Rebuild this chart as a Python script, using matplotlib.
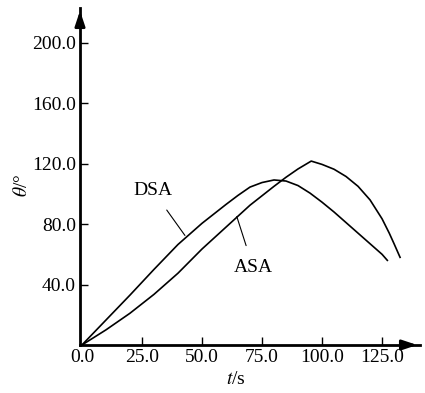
import matplotlib
matplotlib.use("Agg")
import matplotlib.pyplot as plt

# data
dsa_t = [0, 10, 20, 30, 40, 50, 60, 65, 70, 75, 80, 85, 90, 95, 100, 105, 110, 115, 120, 125, 127.2]
dsa_theta = [0, 16.5, 33, 50, 66.5, 80.5, 93, 99, 104.5, 107.5, 109.2, 108.5, 105.5, 100.5, 94.5, 88, 81, 74, 67, 60, 56]
asa_t = [0, 10, 20, 30, 40, 50, 60, 70, 80, 85, 90, 95.5, 100, 105, 110, 115, 120, 125, 128, 130, 132.5]
asa_theta = [0, 10, 21, 33.5, 47.5, 63.5, 78, 92.5, 105, 111, 116.5, 121.7, 119.5, 116.3, 111.5, 105, 96, 83.5, 74, 67, 58]
xticks = [0, 25, 50, 75, 100, 125]
xtick_labels = ["0.0", "25.0", "50.0", "75.0", "100.0", "125.0"]
yticks = [40, 80, 120, 160, 200]
ytick_labels = ["40.0", "80.0", "120.0", "160.0", "200.0"]

plt.rcParams['font.family'] = ['Liberation Serif', 'DejaVu Serif']
plt.rcParams['mathtext.fontset'] = 'stix'

fig = plt.figure(figsize=(4.25, 3.93), dpi=100)
ax = fig.add_axes([80/425, 48/393, 340/425, 337/393])
ax.set_xlim(-0.8, 140.8)
ax.set_ylim(0, 223)

ax.plot(dsa_t, dsa_theta, color='black', lw=1.2)
ax.plot(asa_t, asa_theta, color='black', lw=1.2)

for s in ['top', 'right']:
    ax.spines[s].set_visible(False)
for s in ['left', 'bottom']:
    ax.spines[s].set_linewidth(2)

ax.set_xticks(xticks)
ax.set_xticklabels(xtick_labels)
ax.set_yticks(yticks)
ax.set_yticklabels(ytick_labels)
ax.tick_params(direction='in', length=6, width=1, labelsize=14, pad=3)
ax.xaxis.get_major_ticks()[0].tick1line.set_visible(False)

# arrows
ax.annotate('', xy=(1.0, 0), xytext=(0.95, 0), xycoords='axes fraction',
            arrowprops=dict(arrowstyle='-|>,head_length=0.9,head_width=0.3', color='black', lw=2),
            annotation_clip=False)
ax.annotate('', xy=(0, 1.0), xytext=(0, 0.95), xycoords='axes fraction',
            arrowprops=dict(arrowstyle='-|>,head_length=0.9,head_width=0.3', color='black', lw=2),
            annotation_clip=False)

fig.text(22/425, 1 - 185/393, r'$\mathit{\theta}$/°', rotation=90,
         fontsize=14, ha='center', va='center')
fig.text(236/425, 1 - 380/393, r'$\mathit{t}$/s', fontsize=14, ha='center', va='center')

ax.annotate('DSA', xy=(42.9, 72.5), xytext=(29.6, 102), fontsize=14, ha='center', va='center',
            arrowprops=dict(arrowstyle='-', color='black', lw=0.8, shrinkA=7, shrinkB=0))
ax.annotate('ASA', xy=(64.5, 85), xytext=(71.3, 51.3), fontsize=14, ha='center', va='center',
            arrowprops=dict(arrowstyle='-', color='black', lw=0.8, shrinkA=8, shrinkB=0))

fig.savefig('out.png', dpi=100)
